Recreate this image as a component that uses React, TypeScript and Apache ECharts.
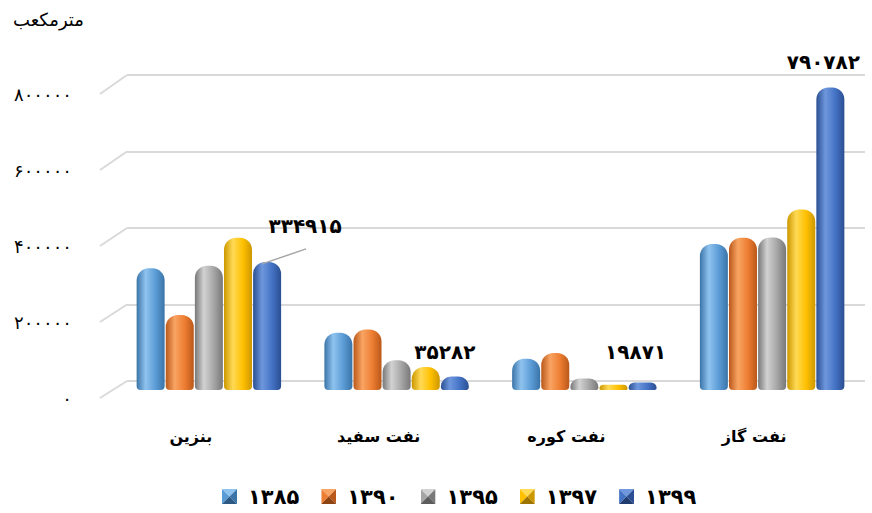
import React, { useEffect, useRef } from "react";
import * as echarts from "echarts";

const categories = ["بنزین", "نفت سفید", "نفت کوره", "نفت گاز"];
const years = ["1385", "1390", "1395", "1397", "1399"];
const s1385 = [318000, 150000, 82000, 382000];
const s1390 = [196000, 158000, 97000, 398000];
const s1395 = [325000, 78000, 30000, 399000];
const s1397 = [398000, 60000, 14000, 472000];
const s1399 = [334915, 35282, 19871, 790782];
const yTicks = [0, 200000, 400000, 600000, 800000];
const unitTitle = "مترمکعب";

const seriesValues = [s1385, s1390, s1395, s1397, s1399];
const palette = [
  { base: "#5B9BD5", light: "#8FC3EF", dark: "#3A74A8", darker: "#2C5A85" },
  { base: "#ED7D31", light: "#F9A462", dark: "#B9581A", darker: "#8E4312" },
  { base: "#A5A5A5", light: "#D2D2D2", dark: "#787878", darker: "#5C5C5C" },
  { base: "#FFC000", light: "#FFDA55", dark: "#CC9700", darker: "#9E7500" },
  { base: "#4472C4", light: "#6E97DD", dark: "#2B4F92", darker: "#213D70" },
];
// label offsets for the 1399 series (per category)
const labelShift = [
  [38, -21],
  [-10, -10],
  [-7, -15],
  [-7, -11],
];

const fa = (s: string | number) =>
  String(s).replace(/\d/g, (d) => "۰۱۲۳۴۵۶۷۸۹"[+d]);

const FONT = "DejaVu Sans";

const pyramidIcon = (c: { base: string; light: string; dark: string; darker: string }) => {
  const svg =
    `<svg xmlns='http://www.w3.org/2000/svg' width='16' height='16' viewBox='0 0 16 16'>` +
    `<polygon points='0,0 16,0 8,8' fill='${c.light}'/>` +
    `<polygon points='0,0 8,8 0,16' fill='${c.base}'/>` +
    `<polygon points='16,0 16,16 8,8' fill='${c.dark}'/>` +
    `<polygon points='0,16 16,16 8,8' fill='${c.darker}'/>` +
    `</svg>`;
  return "image://data:image/svg+xml;charset=utf-8," + encodeURIComponent(svg);
};

export default function App() {
  const ref = useRef<HTMLDivElement>(null);
  useEffect(() => {
    document.body.style.margin = "0";
    const chart = echarts.init(ref.current!, null, { renderer: "svg" });
    const H = 513;
    const backLeft = 127;
    const frontLeft = 100;
    const barWidth = 28;
    const barGapPct = 0.04;

    const series: any[] = seriesValues.map((vals, si) => {
      const c = palette[si];
      const grad = new echarts.graphic.LinearGradient(0, 0, 1, 0, [
        { offset: 0, color: c.dark },
        { offset: 0.32, color: c.light },
        { offset: 0.68, color: c.base },
        { offset: 1, color: c.dark },
      ]);
      const isLast = si === seriesValues.length - 1;
      return {
        type: "bar",
        name: years[si],
        xAxisIndex: 0,
        yAxisIndex: 0,
        barWidth,
        barGap: barGapPct * 100 + "%",
        color: c.base,
        itemStyle: { color: grad, borderRadius: [12, 12, 4, 4] },
        data: vals,
        label: isLast
          ? {
              show: true,
              position: "top",
              formatter: (p: any) => fa(p.value),
              fontFamily: FONT,
              fontWeight: "bold",
              fontSize: 20,
              color: "#000",
            }
          : { show: false },
        labelLayout: isLast
          ? (p: any) => ({ dx: labelShift[p.dataIndex][0], dy: labelShift[p.dataIndex][1] })
          : undefined,
      };
    });

    chart.setOption({
      animation: false,
      backgroundColor: "#fff",
      title: {
        text: unitTitle,
        left: 8,
        top: 5,
        textStyle: { fontFamily: FONT, fontSize: 18, fontWeight: "normal", color: "#000" },
      },
      legend: {
        left: 222,
        top: 486,
        padding: 0,
        itemWidth: 15,
        itemHeight: 16,
        itemGap: 22,
        textStyle: { fontFamily: FONT, fontWeight: "bold", fontSize: 21, color: "#000", padding: [0, 0, 0, 6] },
        formatter: (n: string) => fa(n),
        data: years.map((y, i) => ({ name: y, icon: pyramidIcon(palette[i]) })),
      },
      grid: [
        { left: 115, right: 6, top: 84, bottom: H - 390 },
        { left: backLeft, right: 7, top: 75, bottom: H - 381 },
        { left: frontLeft, right: 7, top: 94, bottom: H - 398 },
      ],
      xAxis: [
        {
          type: "category",
          gridIndex: 0,
          data: categories,
          axisLine: { show: false },
          axisTick: { show: false },
          axisLabel: {
            margin: 38,
            fontFamily: FONT,
            fontWeight: "bold",
            fontSize: 16,
            color: "#000",
            padding: [0, 36, 0, 0],
          },
        },
        { type: "category", gridIndex: 1, data: categories, show: false },
        { type: "category", gridIndex: 2, data: categories, show: false },
      ],
      yAxis: [
        { type: "value", gridIndex: 0, min: 0, max: 800000, interval: 200000, show: false },
        {
          type: "value",
          gridIndex: 1,
          min: 0,
          max: 800000,
          interval: 200000,
          axisLabel: { show: false },
          axisLine: { show: false },
          axisTick: { show: false },
          splitLine: { show: true, lineStyle: { color: "#D9D9D9", width: 2 } },
        },
        {
          type: "value",
          gridIndex: 2,
          min: 0,
          max: 800000,
          interval: 200000,
          axisLine: { show: false },
          axisTick: { show: false },
          splitLine: { show: false },
          axisLabel: {
            margin: 28,
            fontFamily: FONT,
            fontSize: 18,
            color: "#000",
            formatter: (v: number) => fa(v),
          },
        },
      ],
      series,
    });

    const graphic: any[] = yTicks.map((v) => {
      const yf = chart.convertToPixel({ yAxisIndex: 2 }, v) as number;
      const yb = chart.convertToPixel({ yAxisIndex: 1 }, v) as number;
      return {
        type: "line",
        silent: true,
        z: -1,
        shape: { x1: frontLeft, y1: yf, x2: backLeft, y2: yb },
        style: { stroke: "#D9D9D9", lineWidth: 2 },
      };
    });
    // leader line for the first 1399 label
    const cx = chart.convertToPixel({ xAxisIndex: 0 }, categories[0]) as number;
    const barStep = barWidth * (1 + barGapPct);
    const bx = cx + 2 * barStep;
    const by = chart.convertToPixel({ yAxisIndex: 0 }, s1399[0]) as number;
    graphic.push({
      type: "line",
      silent: true,
      z: 10,
      shape: { x1: bx - 5, y1: by + 2, x2: bx + 39, y2: by - 13 },
      style: { stroke: "#A6A6A6", lineWidth: 1.5 },
    });
    chart.setOption({ graphic });

    return () => chart.dispose();
  }, []);
  return <div ref={ref} style={{ width: 872, height: 513 }} />;
}
